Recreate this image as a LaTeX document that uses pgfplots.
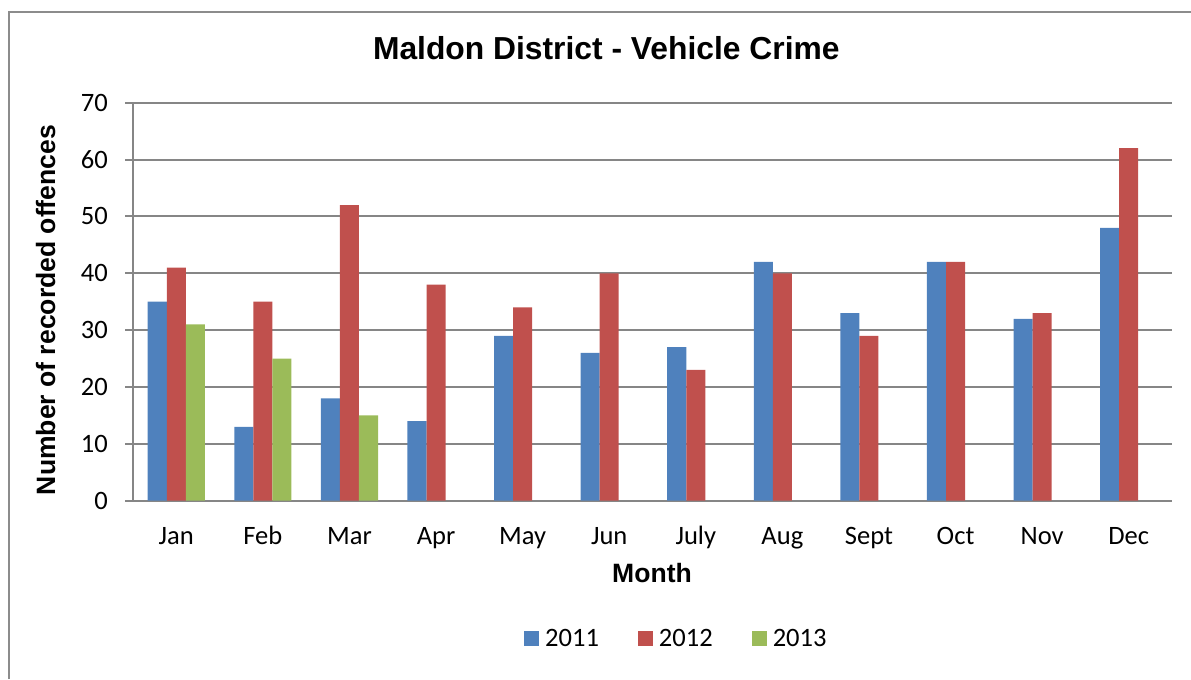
\documentclass[border=0pt]{standalone}
\usepackage{fontspec}
\setmainfont{Carlito}
\newfontfamily\arial{Liberation Sans}
\usepackage{pgfplots}
\pgfplotsset{compat=1.18}

\definecolor{s2011}{HTML}{4F81BD}
\definecolor{s2012}{HTML}{C0504D}
\definecolor{s2013}{HTML}{9BBB59}
\definecolor{gridgray}{HTML}{868686}
\definecolor{framegray}{HTML}{8C8C8C}

\newcommand{\tickfont}{\fontsize{19.9}{24}\selectfont}

\begin{document}
\begin{tikzpicture}[x=0.75pt,y=0.75pt]
% picture laid out in reference pixels, y upwards
\useasboundingbox (0,0) rectangle (1191,679);
\draw[framegray, line width=1.5pt] (9,0) -- (9,667) -- (1191,667);

\begin{axis}[
  at={(99.75pt,133.725pt)}, anchor=south west,
  width=779.25pt, height=298.5pt, scale only axis,
  xmin=-0.5, xmax=11.5, ymin=0, ymax=70,
  enlargelimits=false,
  xtick={0,...,11},
  xticklabels={Jan,Feb,Mar,Apr,May,Jun,July,Aug,Sept,Oct,Nov,Dec},
  ytick={0,10,...,70},
  axis x line*=bottom, axis y line*=left,
  axis line style={gridgray, line width=1.5pt, -},
  ymajorgrids,
  grid style={gridgray, line width=1.5pt},
  tick align=outside, major tick length=6pt,
  ytick style={gridgray, line width=1.5pt},
  xtick style={draw=none},
  tick label style={font=\tickfont, inner sep=0pt},
  /pgf/number format/assume math mode=true,
  xticklabel style={anchor=base, yshift=-26.5pt},
  yticklabel style={anchor=east, xshift=-12.75pt},
  ybar, bar width=0.22,
  legend columns=-1,
  legend image code/.code={\fill[#1] (0pt,-5.625pt) rectangle (11.25pt,5.625pt);},
  legend style={draw=none, fill=none, at={(0.522,-0.347)}, anchor=center,
    font=\tickfont, nodes={inner sep=0pt},
    /tikz/every odd column/.append style={column sep=4.5pt},
    /tikz/every even column/.append style={column sep=29.25pt}},
]
\addplot[fill=s2011, draw=none, bar shift=-0.22] coordinates {
  (0,35) (1,13) (2,18) (3,14) (4,29) (5,26)
  (6,27) (7,42) (8,33) (9,42) (10,32) (11,48)};
\addplot[fill=s2012, draw=none, bar shift=0] coordinates {
  (0,41) (1,35) (2,52) (3,38) (4,34) (5,40)
  (6,23) (7,40) (8,29) (9,42) (10,33) (11,62)};
\addplot[fill=s2013, draw=none, bar shift=0.22] coordinates {
  (0,31) (1,25) (2,15)};
\legend{2011,2012,2013}
\end{axis}

\node[anchor=base, inner sep=0pt, font=\arial\bfseries\fontsize{23.85}{28}\selectfont]
  at (606.3,619) {Maldon District - Vehicle Crime};
\node[anchor=base, inner sep=0pt, font=\arial\bfseries\fontsize{19.9}{24}\selectfont]
  at (652,96.5) {Month};
\node[anchor=base, rotate=90, inner sep=0pt, font=\arial\bfseries\fontsize{19.9}{24}\selectfont]
  at (55,369) {Number of recorded offences};
\end{tikzpicture}
\end{document}
